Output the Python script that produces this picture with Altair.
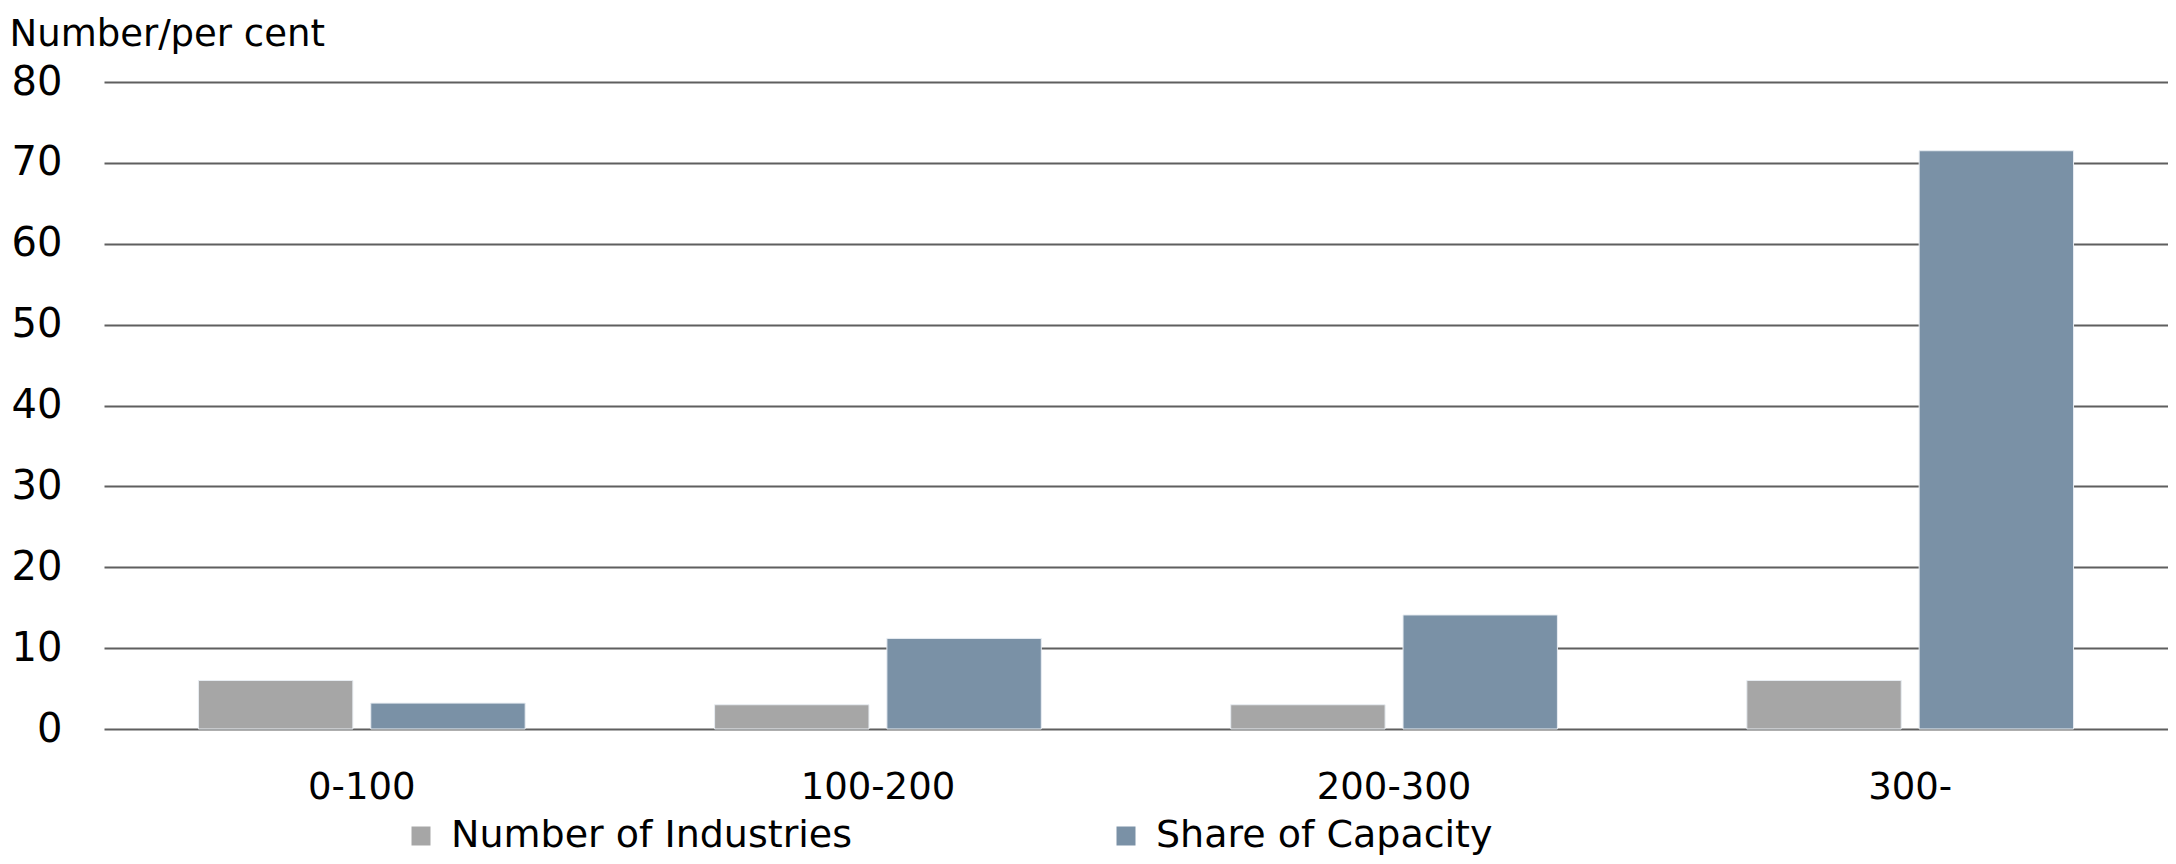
import altair as alt
import pandas as pd

categories = ["0-100", "100-200", "200-300", "300-"]
series = ["Number of Industries", "Share of Capacity"]
industries = [6, 3, 3, 6]
capacity = [3.2, 11.2, 14.1, 71.5]
colors = ["#A6A6A6", "#7A91A6"]
y_ticks = [0, 10, 20, 30, 40, 50, 60, 70, 80]

rows = []
for c, a, b in zip(categories, industries, capacity):
    rows.append({"range": c, "series": series[0], "value": a})
    rows.append({"range": c, "series": series[1], "value": b})
df = pd.DataFrame(rows)

FONT = "Century Gothic, DejaVu Sans, sans-serif"

chart = alt.Chart(df).mark_bar(stroke="#E8EDF2", strokeWidth=1).encode(
    x=alt.X("range:N", sort=categories,
            scale=alt.Scale(paddingInner=0.367, paddingOuter=0.183),
            axis=alt.Axis(title=None, labelAngle=0, labelFontSize=37, labelColor="#000000",
                          labelFont=FONT, labelPadding=40, ticks=False, domain=False, grid=False)),
    xOffset=alt.XOffset("series:N", sort=series, scale=alt.Scale(paddingInner=0.104, paddingOuter=0)),
    y=alt.Y("value:Q", scale=alt.Scale(domain=[0, 80], nice=False),
            axis=alt.Axis(values=y_ticks, title="Number/per cent", titleAngle=0, titleAlign="left",
                          titleBaseline="top", titleX=-95, titleY=-66,
                          titleFontSize=37, titleFontWeight="normal", titleFont=FONT, titleColor="#000000",
                          labelFontSize=40, labelFont=FONT, labelColor="#000000", labelPadding=42,
                          ticks=False, domain=False, grid=True, gridColor="#5F5F5F", gridWidth=2)),
    color=alt.Color("series:N", sort=series,
                    scale=alt.Scale(domain=series, range=colors),
                    legend=alt.Legend(title=None, orient="none", direction="horizontal",
                                      legendX=298, legendY=735, symbolType="square", symbolSize=361,
                                      symbolStrokeWidth=0, labelFontSize=38, labelFont=FONT,
                                      labelColor="#000000", labelOffset=11, labelLimit=0,
                                      columnPadding=255)),
).properties(
    width=2064, height=647,
    autosize=alt.AutoSizeParams(type="none"),
    padding={"left": 96, "top": 74, "right": 0, "bottom": 126},
).configure_view(stroke=None)

chart.save("out.html", embed_options={"renderer": "svg", "actions": False})
